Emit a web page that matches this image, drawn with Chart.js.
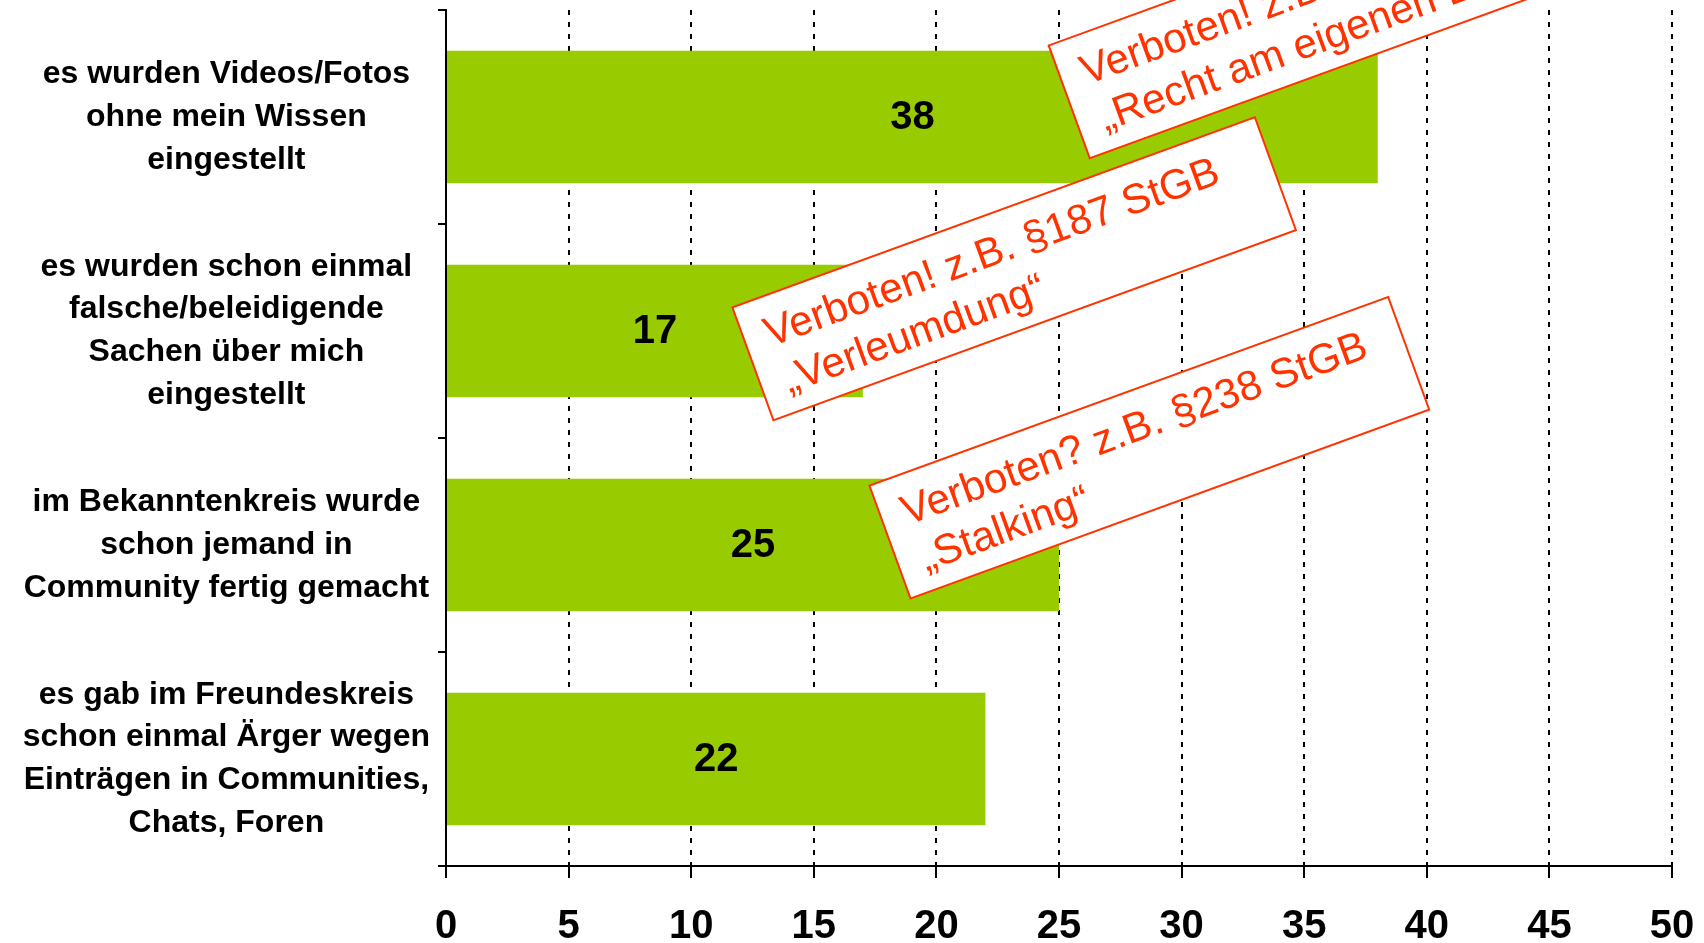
<!DOCTYPE html>
<html lang="de">
<head>
<meta charset="utf-8">
<title>Communities</title>
<script src="https://cdn.jsdelivr.net/npm/chart.js@4"></script>
<style>
  html, body { margin: 0; padding: 0; background: #fff; }
  #wrap { width: 1704px; height: 943px; position: relative; }
</style>
</head>
<body>
<div id="wrap"><canvas id="myChart"></canvas></div>
<script>
// Catégories (libellés sur plusieurs lignes)
var categories = [
    ["es wurden Videos/Fotos", "ohne mein Wissen", "eingestellt"],
    ["es wurden schon einmal", "falsche/beleidigende", "Sachen über mich", "eingestellt"],
    ["im Bekanntenkreis wurde", "schon jemand in", "Community fertig gemacht"],
    ["es gab im Freundeskreis", "schon einmal Ärger wegen", "Einträgen in Communities,", "Chats, Foren"]
];

// Valeurs des barres
var values = [38, 17, 25, 22];

// Axe des x
var xMin = 0;
var xMax = 50;
var xStep = 5;

// Textes des encadrés rouges
var notesLine1 = ["Verboten! z.B. §22 KUG", "Verboten! z.B. §187 StGB", "Verboten? z.B. §238 StGB"];
var notesLine2 = ["„Recht am eigenen Bild“", "„Verleumdung“", "„Stalking“"];

var mainFont = '"Liberation Sans", Arial, sans-serif';

// Affiche la valeur au milieu de chaque barre
var valueLabels = {
    id: 'valueLabels',
    afterDatasetsDraw: function(chart) {
        var ctx = chart.ctx;
        var meta = chart.getDatasetMeta(0);
        ctx.save();
        ctx.font = 'bold 40px ' + mainFont;
        ctx.fillStyle = '#000';
        ctx.textAlign = 'center';
        ctx.textBaseline = 'middle';
        for (var i = 0; i < meta.data.length; i++) {
            var p = meta.data[i].getProps(['x', 'y', 'base'], true);
            ctx.fillText(String(values[i]), (p.x + p.base) / 2, p.y + 1);
        }
        ctx.restore();
    }
};

// Encadrés inclinés (ancrés sur les échelles)
var notesPlugin = {
    id: 'notes',
    afterDatasetsDraw: function(chart) {
        var ctx = chart.ctx;
        var xs = chart.scales.x;
        var ys = chart.scales.y;
        var boxes = [
            { x: 24.58, y: -0.334, w: 556 },
            { x: 11.68, y: 0.89, w: 556 },
            { x: 17.27, y: 1.723, w: 552 }
        ];
        for (var i = 0; i < boxes.length; i++) {
            var b = boxes[i];
            ctx.save();
            ctx.translate(xs.getPixelForValue(b.x), ys.getPixelForValue(b.y));
            ctx.rotate(-20 * Math.PI / 180);
            ctx.fillStyle = '#fff';
            ctx.fillRect(0, 0, b.w, 120);
            ctx.lineWidth = 2;
            ctx.strokeStyle = '#ff3300';
            ctx.strokeRect(0, 0, b.w, 120);
            ctx.fillStyle = '#ff3300';
            ctx.font = '42px ' + mainFont;
            ctx.textAlign = 'left';
            ctx.textBaseline = 'alphabetic';
            ctx.fillText(notesLine1[i], 22, 50);
            ctx.fillText(notesLine2[i], 24, 100);
            ctx.restore();
        }
    }
};

var ctx = document.getElementById('myChart').getContext('2d');
var myChart = new Chart(ctx, {
    type: 'bar',
    data: {
        labels: categories,
        datasets: [{
            data: values,
            backgroundColor: '#99cc00',
            borderWidth: 0,
            barPercentage: 0.62,
            categoryPercentage: 1
        }]
    },
    options: {
        indexAxis: 'y',
        responsive: true,
        maintainAspectRatio: false,
        animation: false,
        layout: { padding: { top: 10, right: 32, left: 0, bottom: 0 } },
        plugins: {
            legend: { display: false },
            tooltip: { enabled: false }
        },
        scales: {
            x: {
                min: xMin,
                max: xMax,
                ticks: {
                    stepSize: xStep,
                    color: '#000',
                    padding: 29,
                    maxRotation: 0,
                    font: { family: mainFont, size: 40, weight: 'bold', lineHeight: 1 }
                },
                grid: { color: '#000', lineWidth: 2, tickLength: 12, tickBorderDash: [] },
                border: { display: true, color: '#000', width: 2, dash: [5, 7] },
                afterFit: function(scale) {
                    scale.height = 77;
                    scale.paddingLeft = 0;
                    scale.paddingRight = 0;
                }
            },
            y: {
                ticks: {
                    color: '#000',
                    crossAlign: 'center',
                    padding: 8,
                    autoSkip: false,
                    font: { family: mainFont, size: 32, weight: 'bold', lineHeight: 1.34 }
                },
                grid: { drawOnChartArea: false, color: '#000', lineWidth: 2, tickLength: 8, offset: true },
                border: { color: '#000', width: 2 },
                afterFit: function(scale) {
                    scale.width = 446;
                    scale.paddingTop = 0;
                    scale.paddingBottom = 0;
                }
            }
        }
    },
    plugins: [valueLabels, notesPlugin]
});
</script>
</body>
</html>
